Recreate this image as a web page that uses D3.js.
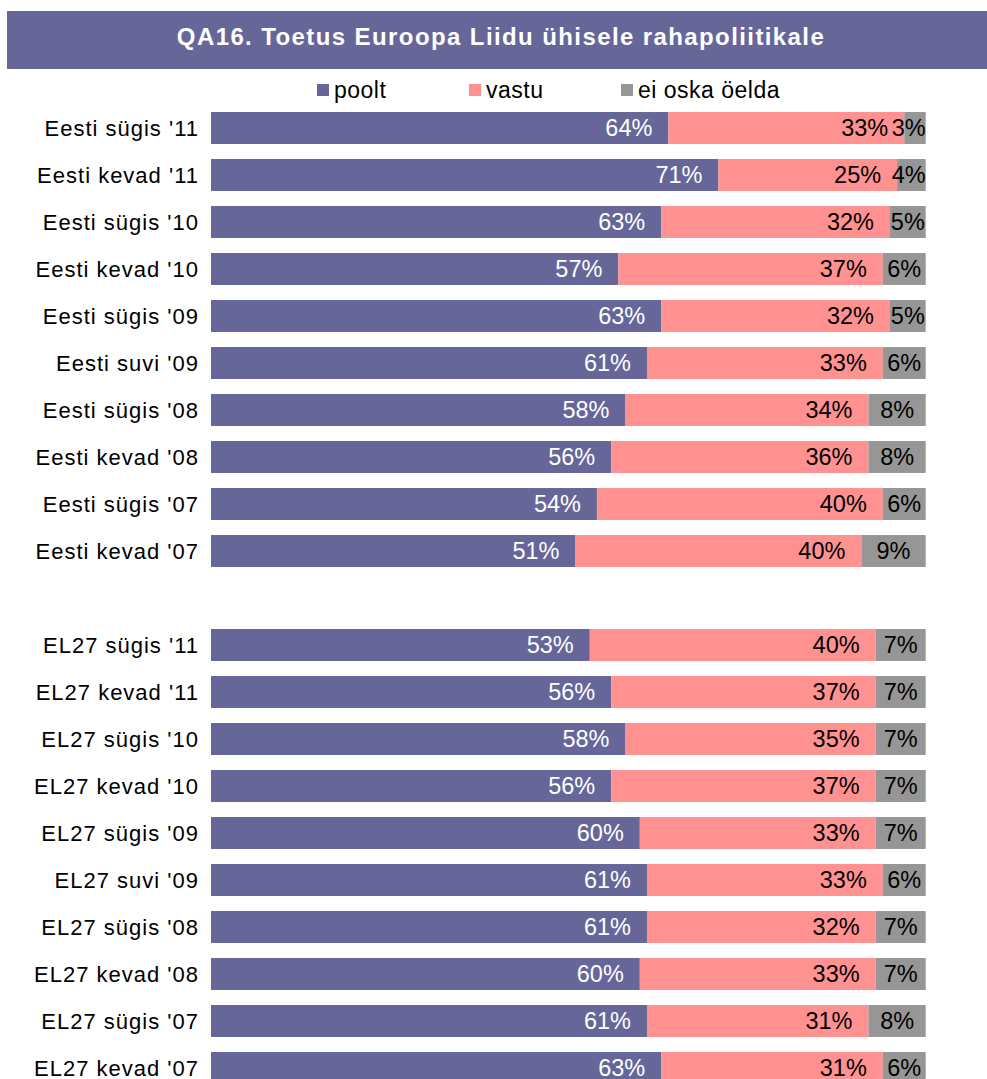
<!DOCTYPE html>
<html>
<head>
<meta charset="utf-8">
<script src="https://cdn.jsdelivr.net/npm/d3@7"></script>
<style>
  body { margin: 0; background: #ffffff; }
  svg text { font-family: "Liberation Sans", Arial, sans-serif; }
</style>
</head>
<body>
<div id="chart"></div>
<script>
// chart data
var categories = [
  "Eesti sügis '11", "Eesti kevad '11", "Eesti sügis '10", "Eesti kevad '10", "Eesti sügis '09",
  "Eesti suvi '09", "Eesti sügis '08", "Eesti kevad '08", "Eesti sügis '07", "Eesti kevad '07",
  "EL27 sügis '11", "EL27 kevad '11", "EL27 sügis '10", "EL27 kevad '10", "EL27 sügis '09",
  "EL27 suvi '09", "EL27 sügis '08", "EL27 kevad '08", "EL27 sügis '07", "EL27 kevad '07"
];
var poolt  = [64, 71, 63, 57, 63, 61, 58, 56, 54, 51, 53, 56, 58, 56, 60, 61, 61, 60, 61, 63];
var vastu  = [33, 25, 32, 37, 32, 33, 34, 36, 40, 40, 40, 37, 35, 37, 33, 33, 32, 33, 31, 31];
var eiOska = [ 3,  4,  5,  6,  5,  6,  8,  8,  6,  9,  7,  7,  7,  7,  7,  6,  7,  7,  8,  6];
var seriesNames = ["poolt", "vastu", "ei oska öelda"];
var title = "QA16. Toetus Euroopa Liidu ühisele rahapoliitikale";

var width = 987, height = 1079;
var colors = {"poolt": "#666699", "vastu": "#ff9191", "ei oska öelda": "#969696"};
var labelColors = {"poolt": "#ffffff", "vastu": "#000000", "ei oska öelda": "#000000"};

var svg = d3.select('#chart').append('svg')
    .attr('width', width)
    .attr('height', height);

// title band
svg.append('rect')
    .attr('x', 7).attr('y', 11)
    .attr('width', width - 7).attr('height', 58)
    .attr('fill', '#666699');
svg.append('text')
    .attr('x', 501).attr('y', 37)
    .attr('dy', '0.35em')
    .attr('text-anchor', 'middle')
    .style('font-size', '24px')
    .style('font-weight', 'bold')
    .style('letter-spacing', '1.4px')
    .attr('fill', '#ffffff')
    .text(title);

// legend
var legendX = [317, 469, 621];
var legend = svg.append('g').selectAll('g')
    .data(seriesNames)
    .enter().append('g')
    .attr('transform', function(d, i) { return 'translate(' + legendX[i] + ',90)'; });
legend.append('rect')
    .attr('x', 0).attr('y', -6)
    .attr('width', 12).attr('height', 12)
    .attr('fill', function(d) { return colors[d]; });
legend.append('text')
    .attr('x', 17).attr('dy', '0.35em')
    .style('font-size', '23px')
    .style('letter-spacing', '0.5px')
    .text(function(d) { return d; });

// rows: Eesti block, empty slot, EL27 block
var rows = categories.map(function(c, i) {
  return {cat: c, "poolt": poolt[i], "vastu": vastu[i], "ei oska öelda": eiOska[i]};
});
var domain = categories.slice(0, 10).concat(['__gap__']).concat(categories.slice(10));

var y = d3.scaleBand()
    .domain(domain)
    .range([104.5, 104.5 + 47 * domain.length])
    .paddingInner(0.32)
    .paddingOuter(0.16);
var x = d3.scaleLinear()
    .domain([0, 100])
    .range([211, 925.7]);

var stacked = d3.stack().keys(seriesNames)(rows);

var layers = svg.append('g').selectAll('g')
    .data(stacked)
    .enter().append('g')
    .attr('fill', function(d) { return colors[d.key]; });

layers.selectAll('rect')
    .data(function(d) { return d; })
    .enter().append('rect')
    .attr('x', function(d) { return x(d[0]); })
    .attr('y', function(d) { return y(d.data.cat); })
    .attr('width', function(d) { return x(d[1]) - x(d[0]); })
    .attr('height', y.bandwidth());

// value labels, inside end of each segment
layers.each(function(layer) {
  d3.select(this).selectAll('text')
    .data(layer)
    .enter().append('text')
    .attr('text-anchor', 'end')
    .attr('y', function(d) { return y(d.data.cat) + y.bandwidth() / 2; })
    .attr('dy', '0.35em')
    .style('font-size', '23.5px')
    .attr('fill', labelColors[layer.key])
    .text(function(d) { return (d[1] - d[0]) + '%'; })
    .attr('x', function(d) {
      var segW = x(d[1]) - x(d[0]);
      var tw = this.getComputedTextLength();
      var pad = Math.max(0, Math.min(16, (segW - tw) / 2));
      return x(d[1]) - pad;
    });
});

// category labels
svg.append('g').selectAll('text')
    .data(categories)
    .enter().append('text')
    .attr('x', 199)
    .attr('y', function(d) { return y(d) + y.bandwidth() / 2; })
    .attr('dy', '0.35em')
    .attr('text-anchor', 'end')
    .style('font-size', '22px')
    .style('letter-spacing', '1px')
    .attr('fill', '#000000')
    .text(function(d) { return d; });
</script>
</body>
</html>
